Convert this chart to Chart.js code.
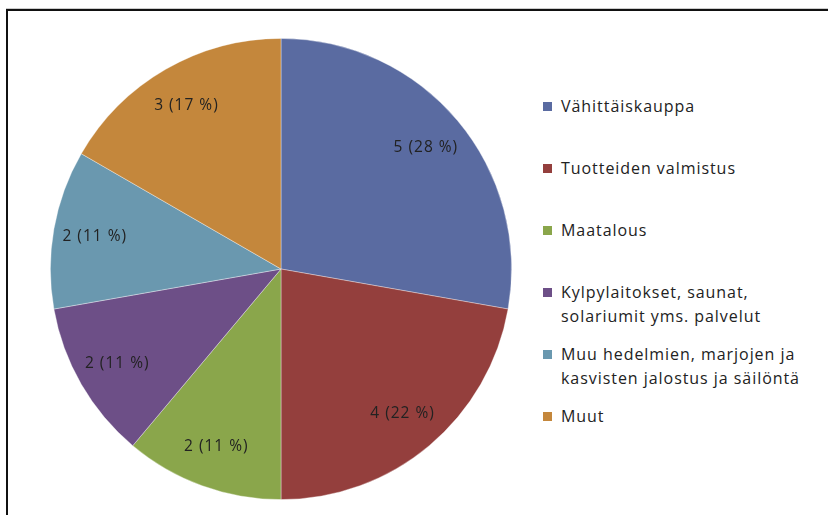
<!DOCTYPE html>
<html>
<head>
<meta charset="utf-8">
<script src="https://cdn.jsdelivr.net/npm/chart.js@4"></script>
<style>
  html, body { margin: 0; padding: 0; background: #fff; }
  body { width: 828px; height: 515px; position: relative; overflow: hidden; font-family: "Open Sans", sans-serif; }
  .frame { position: absolute; left: 6px; top: 9px; right: -4px; bottom: -4px; border-top: 2px solid #111; border-left: 2px solid #111; box-shadow: 0 -1px 0 #ccc; }
  .pie-box { position: absolute; left: 50px; top: 38px; width: 462px; height: 462px; }
  .legend { position: absolute; left: 543px; top: 94px; list-style: none; margin: 0; padding: 0; }
  .legend li { height: 62px; display: flex; align-items: flex-start; font-size: 16px; letter-spacing: 0.95px; line-height: 24px; color: #222; }
  .legend .sw { width: 9px; height: 9px; margin-top: 8px; margin-right: 9px; flex: none; }
</style>
</head>
<body>
<div class="frame"></div>
<div class="pie-box"><canvas id="pieChart"></canvas></div>
<ul class="legend" id="legend"></ul>
<script>
document.addEventListener('DOMContentLoaded', function() {
    // Toimialat ja lukumäärät
    const labels = [
        ['Vähittäiskauppa'],
        ['Tuotteiden valmistus'],
        ['Maatalous'],
        ['Kylpylaitokset, saunat,', 'solariumit yms. palvelut'],
        ['Muu hedelmien, marjojen ja', 'kasvisten jalostus ja säilöntä'],
        ['Muut']
    ];
    const counts = [5, 4, 2, 2, 2, 3];
    const colors = ['#5a6ba1', '#943f3d', '#8aa64b', '#6d4f87', '#6a98af', '#c4873c'];

    const total = counts.reduce((s, v) => s + v, 0);

    // Legend (HTML so the long names can wrap like the original)
    const legend = document.getElementById('legend');
    labels.forEach((lines, i) => {
        const li = document.createElement('li');
        li.innerHTML = `<span class="sw" style="background:${colors[i]}"></span><span>${lines.join('<br>')}</span>`;
        legend.appendChild(li);
    });

    // Draw "n (p %)" inside each slice
    const sliceLabels = {
        id: 'sliceLabels',
        afterDatasetsDraw(chart) {
            const ctx = chart.ctx;
            const meta = chart.getDatasetMeta(0);
            ctx.save();
            ctx.font = '15.5px "Open Sans", sans-serif';
            ctx.letterSpacing = '1px';
            ctx.fillStyle = '#222';
            ctx.textAlign = 'center';
            ctx.textBaseline = 'middle';
            meta.data.forEach((arc, i) => {
                const p = arc.getProps(['x', 'y', 'startAngle', 'endAngle', 'outerRadius'], true);
                const mid = (p.startAngle + p.endAngle) / 2;
                const r = p.outerRadius * 0.82;
                const pct = Math.round(counts[i] / total * 100);
                ctx.fillText(counts[i] + ' (' + pct + ' %)', p.x + Math.cos(mid) * r, p.y + Math.sin(mid) * r);
            });
            ctx.restore();
        }
    };

    new Chart(document.getElementById('pieChart'), {
        type: 'pie',
        data: {
            labels: labels.map(l => l.join(' ')),
            datasets: [{
                data: counts,
                backgroundColor: colors,
                borderColor: 'rgba(255,255,255,0.45)',
                borderWidth: 0.8
            }]
        },
        options: {
            responsive: true,
            maintainAspectRatio: true,
            aspectRatio: 1,
            animation: false,
            layout: { padding: 0 },
            plugins: {
                legend: { display: false },
                tooltip: { enabled: false }
            }
        },
        plugins: [sliceLabels]
    });
});
</script>
</body>
</html>
